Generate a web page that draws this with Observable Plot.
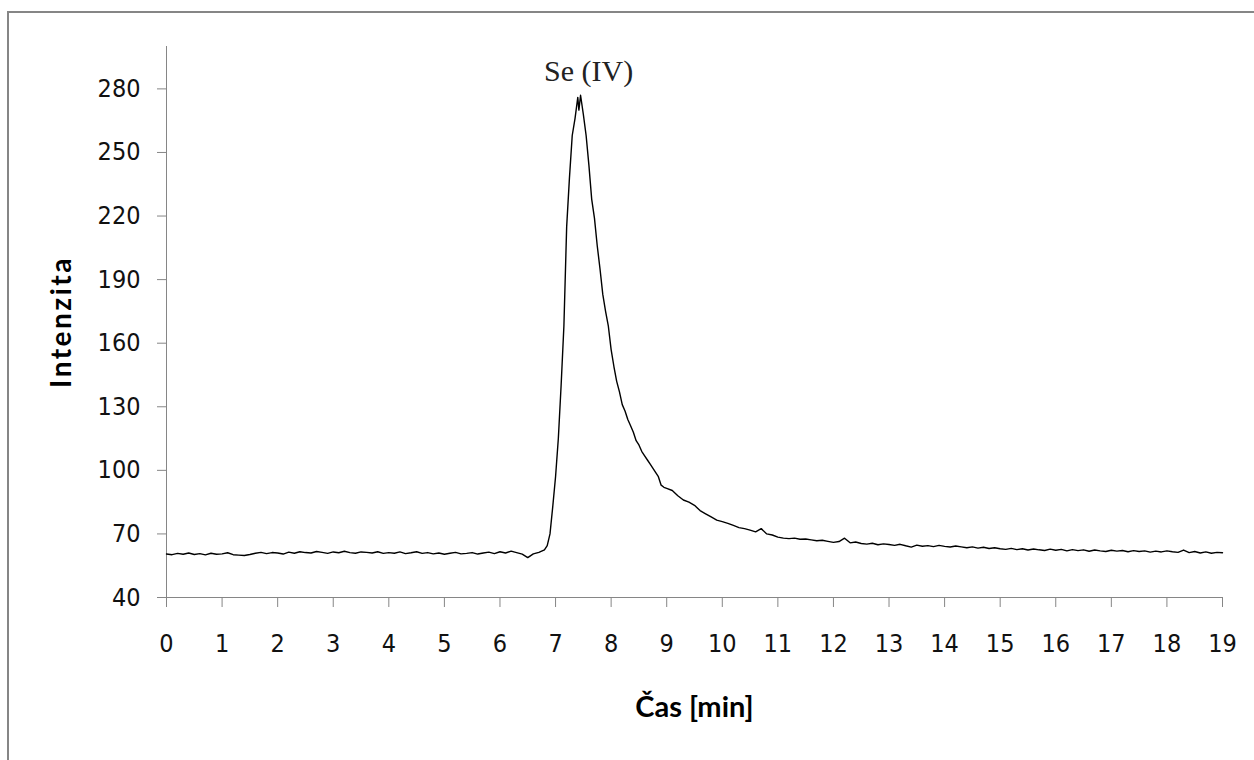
<!DOCTYPE html>
<html>
<head>
<meta charset="utf-8">
<script src="https://cdn.jsdelivr.net/npm/d3@7"></script>
<script src="https://cdn.jsdelivr.net/npm/@observablehq/plot@0.6"></script>
<style>
  html, body { margin: 0; padding: 0; background: white; }
  #wrap { position: relative; width: 1254px; height: 760px; overflow: hidden; }
  #frame { position: absolute; left: 7px; top: 11px; width: 1400px; height: 900px;
           border-left: 2px solid #868686; border-top: 2px solid #868686; pointer-events: none; }
  #chart { position: absolute; left: 0; top: 0; }
</style>
</head>
<body>
<div id="wrap"><div id="chart"></div><div id="frame"></div></div>
<script>
// Retention time [min]
const time = [
  0.0,0.1,0.2,0.3,0.4,0.5,0.6,0.7,0.8,0.9,
  1.0,1.1,1.2,1.3,1.4,1.5,1.6,1.7,1.8,1.9,
  2.0,2.1,2.2,2.3,2.4,2.5,2.6,2.7,2.8,2.9,
  3.0,3.1,3.2,3.3,3.4,3.5,3.6,3.7,3.8,3.9,
  4.0,4.1,4.2,4.3,4.4,4.5,4.6,4.7,4.8,4.9,
  5.0,5.1,5.2,5.3,5.4,5.5,5.6,5.7,5.8,5.9,
  6.0,6.1,6.2,6.3,6.4,6.5,6.6,6.7,
  6.8,6.85,6.9,6.95,7.0,7.05,7.1,7.15,7.2,7.25,7.3,7.35,7.4,7.42,7.45,
  7.5,7.55,7.6,7.65,7.7,7.75,7.8,7.85,7.9,7.95,
  8.0,8.05,8.1,8.15,8.2,8.25,8.3,8.35,8.4,8.45,8.5,8.55,8.6,8.65,8.7,8.75,8.8,8.85,8.9,8.95,
  9.0,9.1,9.2,9.3,9.4,9.5,9.6,9.7,9.8,9.9,
  10.0,10.1,10.2,10.3,10.4,10.5,10.6,10.7,10.8,10.9,
  11.0,11.1,11.2,11.3,11.4,11.5,11.6,11.7,11.8,11.9,
  12.0,12.1,12.2,12.3,12.4,12.5,12.6,12.7,12.8,12.9,
  13.0,13.1,13.2,13.3,13.4,13.5,13.6,13.7,13.8,13.9,
  14.0,14.1,14.2,14.3,14.4,14.5,14.6,14.7,14.8,14.9,
  15.0,15.1,15.2,15.3,15.4,15.5,15.6,15.7,15.8,15.9,
  16.0,16.1,16.2,16.3,16.4,16.5,16.6,16.7,16.8,16.9,
  17.0,17.1,17.2,17.3,17.4,17.5,17.6,17.7,17.8,17.9,
  18.0,18.1,18.2,18.3,18.4,18.5,18.6,18.7,18.8,18.9,
  19.0
];
// Intensity
const intensity = [
  60.5,60.2,60.8,60.4,61.0,60.3,60.7,60.1,60.9,60.4,
  60.6,61.1,60.2,60.0,59.8,60.3,60.9,61.3,60.7,61.2,
  61.0,60.5,61.4,60.9,61.6,61.2,61.0,61.7,61.3,60.8,
  61.5,61.1,61.8,61.2,60.9,61.5,61.3,61.0,61.6,60.8,
  61.2,60.9,61.5,60.7,61.1,61.6,60.8,61.2,60.6,61.0,
  60.4,60.9,61.3,60.6,60.8,61.2,60.5,61.0,61.4,60.7,
  61.6,61.0,61.9,61.2,60.5,58.8,60.6,61.3,
  62.5,64.5,70,83,97,115,140,168,215,238,258,266,276,270,277,
  268,258,244,228,219,206,195,183,175,168,
  157,149,142,137,131,128,124,121,118,114,112,109,107,105,103,101,99,97,93,92,
  91.5,90.5,88,86,85,83.5,81,79.5,78,76.5,
  75.8,75,74,73,72.5,71.8,71,72.5,70,69.5,
  68.5,68,67.8,68,67.5,67.6,67.2,66.8,67,66.5,
  66,66.4,68,65.8,66.2,65.5,65.2,65.6,64.9,65.3,
  65,64.6,65.1,64.4,63.8,64.7,64.2,64.5,64.0,64.6,
  64.1,63.8,64.3,63.9,63.5,63.9,63.3,63.7,63.1,63.5,
  63.0,62.7,63.2,62.6,63.0,62.4,62.9,62.5,62.2,62.8,
  62.3,62.7,62.0,62.6,62.1,62.5,61.8,62.4,62.0,61.7,
  62.3,61.9,62.2,61.6,62.1,61.7,62.0,61.4,61.9,61.5,
  62.0,61.6,61.3,62.4,61.2,61.7,61.0,61.5,60.9,61.3,
  61.1
];
const xTicks = [0,1,2,3,4,5,6,7,8,9,10,11,12,13,14,15,16,17,18,19];
const yTicks = [40,70,100,130,160,190,220,250,280];
const xTitle = "Čas [min]";
const yTitle = "Intenzita";
const peakLabel = [{t: 7.45, v: 277, text: "Se (IV)"}];

const data = time.map((t, i) => ({t, v: intensity[i]}));
const gray = "#868686";
const tickFont = "'Liberation Sans Narrow', 'DejaVu Sans Condensed', Lato, sans-serif";

const chart = Plot.plot({
  width: 1254,
  height: 760,
  marginLeft: 166,
  marginRight: 32,
  marginTop: 46,
  marginBottom: 163,
  style: {fontFamily: "Lato, 'Open Sans', sans-serif", fontSize: "19px", background: "white", color: "black"},
  x: {domain: [0, 19]},
  y: {domain: [40, 300]},
  marks: [
    Plot.ruleY([40], {stroke: gray, strokeWidth: 1}),
    Plot.ruleX([0], {stroke: gray, strokeWidth: 1}),
    Plot.axisX({ticks: xTicks, tickSize: 10, tickPadding: 27, stroke: gray, fill: "#111", label: null, fontSize: 25, fontFamily: tickFont}),
    Plot.axisY({ticks: yTicks, tickSize: 9, tickPadding: 17, stroke: gray, fill: "#111", label: null, fontSize: 25, fontFamily: tickFont}),
    Plot.line(data, {x: "t", y: "v", stroke: "black", strokeWidth: 1.4}),
    Plot.text(peakLabel, {x: "t", y: "v", text: "text", dx: 8, dy: -24, fontFamily: "'Liberation Serif', serif", fontSize: 30, fill: "#222"}),
    Plot.text([xTitle], {frameAnchor: "bottom", textAnchor: "middle", lineAnchor: "middle", dy: 110, fontWeight: "bold", fontSize: 29, fill: "black"}),
    Plot.text([yTitle], {frameAnchor: "left", textAnchor: "middle", lineAnchor: "middle", dx: -104, rotate: -90, fontWeight: "bold", fontSize: 28, fill: "black", className: "ytitle"})
  ]
});
d3.select(chart).selectAll(".ytitle text").style("letter-spacing", "2.5px");
document.getElementById("chart").appendChild(chart);
</script>
</body>
</html>
